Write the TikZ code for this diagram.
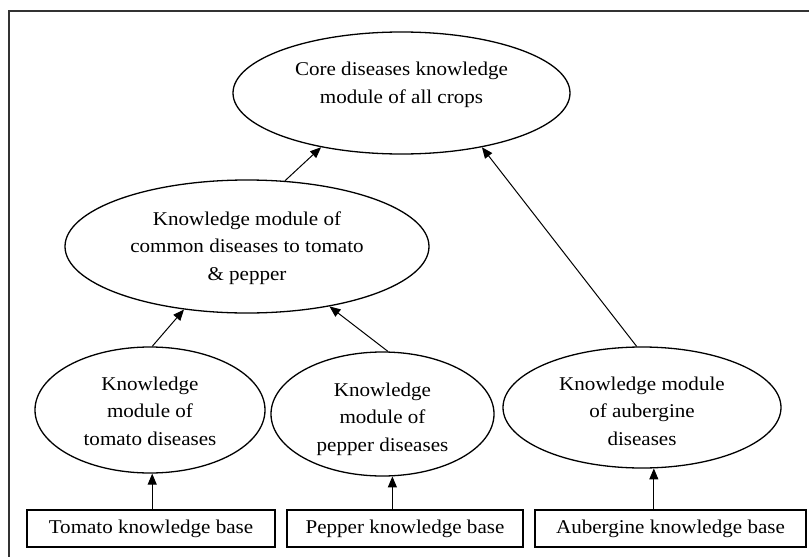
\documentclass[tikz,border=0pt]{standalone}
\usepackage{fontspec}
\setmainfont{Liberation Serif}[FakeStretch=1.08]
\usetikzlibrary{arrows.meta,shapes.geometric}
\begin{document}
\begin{tikzpicture}[x=1pt,y=-1pt,
  bubble/.style={draw, ellipse, line width=1.3pt, inner sep=0pt},
  kbox/.style={draw, rectangle, line width=1.1pt, inner sep=0pt, minimum height=37pt,
    font=\fontsize{19.5}{27.5}\selectfont},
  txt/.style={align=center, inner sep=0pt, font=\fontsize{19.5}{27.5}\selectfont},
  arr/.style={line width=1pt, -{Triangle[length=11pt,width=9pt]}}]
\useasboundingbox (0,0) rectangle (809,557);
% open frame: top and left sides
\draw[line width=1.8pt, black!80] (809,11) -| (9,557);

% knowledge modules
\node[bubble, minimum width=337pt, minimum height=122pt] (core) at (401.5,93) {};
\node[bubble, minimum width=364pt, minimum height=133pt] (common) at (247,246.5) {};
\node[bubble, minimum width=230pt, minimum height=126pt] (tomato) at (150,410) {};
\node[bubble, minimum width=223pt, minimum height=124pt] (pepper) at (382.5,414) {};
\node[bubble, minimum width=278pt, minimum height=121pt] (aubergine) at (642,407.5) {};

\node[txt] (coretext) at (401.5,85) {Core diseases knowledge\\module of all crops};
\node[txt] (commontext) at (247,248) {Knowledge module of\\common diseases to tomato\\\& pepper};
\node[txt] (tomatotext) at (150,411) {Knowledge\\module of\\tomato diseases};
\node[txt] (peppertext) at (382.5,419) {Knowledge\\module of\\pepper diseases};
\node[txt] (auberginetext) at (642,411) {Knowledge module\\of aubergine\\diseases};

% knowledge bases
\node[kbox, minimum width=248pt] (tbase) at (151,528.5) {Tomato knowledge base};
\node[kbox, minimum width=236pt] (pbase) at (405,528.5) {Pepper knowledge base};
\node[kbox, minimum width=271pt] (abase) at (670.5,528.5) {Aubergine knowledge base};

% connectors
\draw[arr] (common.60) -- (core.214);
\draw[arr] (aubergine.95) -- (core.326);
\draw[arr] (tomato.88) -- (common.225);
\draw[arr] (pepper.85) -- (common.324);
\draw[arr] (tbase.north -| tomato.272) -- (tomato.272);
\draw[arr] (pbase.north -| pepper.279) -- (pepper.279);
\draw[arr] (abase.north -| aubergine.281) -- (aubergine.281);
\end{tikzpicture}
\end{document}
